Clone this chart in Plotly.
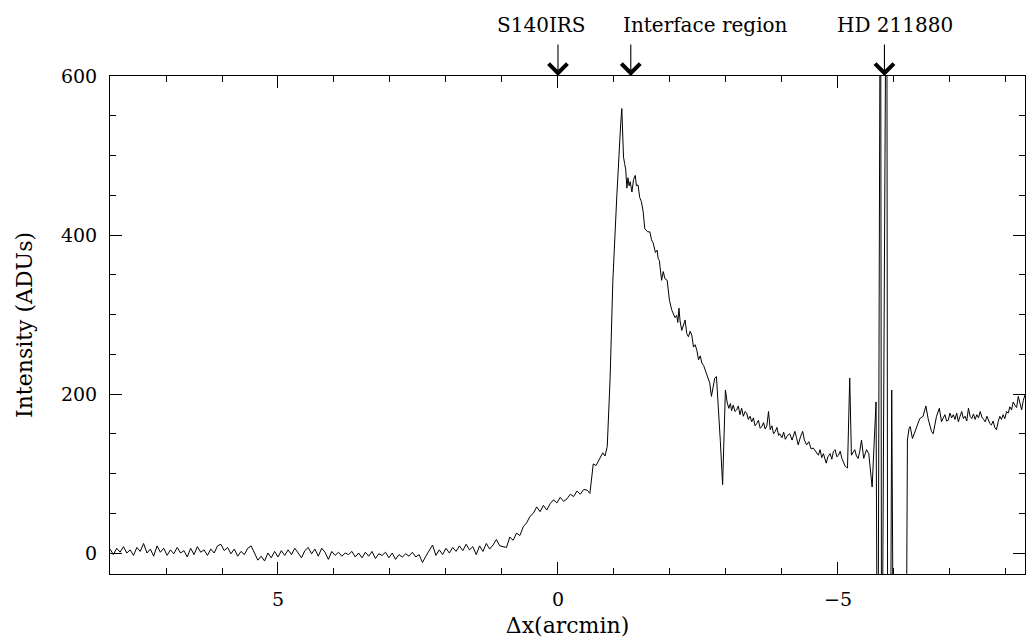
import plotly.graph_objects as go

# Offset along the cut (arcmin) and intensity (ADUs)
offset = [
    8.00, 7.94, 7.88, 7.82, 7.76, 7.70, 7.64, 7.58, 7.52, 7.46, 7.40, 7.34, 7.28, 7.22, 7.16, 7.10,
    7.04, 6.98, 6.92, 6.86, 6.80, 6.74, 6.68, 6.62, 6.56, 6.50, 6.44, 6.38, 6.32, 6.26, 6.20, 6.14,
    6.08, 6.02, 5.96, 5.90, 5.84, 5.78, 5.72, 5.66, 5.60, 5.54, 5.48, 5.42, 5.36, 5.30, 5.24, 5.18,
    5.12, 5.06, 5.00, 4.94, 4.88, 4.82, 4.76, 4.70, 4.64, 4.58, 4.52, 4.46, 4.40, 4.34, 4.28, 4.22,
    4.16, 4.10, 4.04, 3.98, 3.92, 3.86, 3.80, 3.74, 3.68, 3.62, 3.56, 3.50, 3.44, 3.38, 3.32, 3.26,
    3.20, 3.14, 3.08, 3.02, 2.96, 2.90, 2.84, 2.78, 2.72, 2.66, 2.60, 2.54, 2.48, 2.42, 2.36, 2.30,
    2.24, 2.18, 2.12, 2.06, 2.00, 1.94, 1.88, 1.82, 1.76, 1.70, 1.64, 1.58, 1.52, 1.46, 1.40, 1.34,
    1.28, 1.22, 1.16, 1.10, 1.04, 0.98, 0.92, 0.86, 0.80, 0.74, 0.68, 0.62, 0.56, 0.50, 0.44, 0.38,
    0.32, 0.26, 0.20, 0.14, 0.08, 0.02, -0.04, -0.10, -0.16, -0.22, -0.28, -0.34, -0.40, -0.46, -0.52, -0.57,
    -0.63, -0.68, -0.74, -0.80, -0.84, -0.88, -0.93, -0.98, -1.05, -1.09, -1.12, -1.14, -1.17, -1.19, -1.21, -1.23,
    -1.25, -1.27, -1.29, -1.32, -1.35, -1.38, -1.40, -1.43, -1.46, -1.49, -1.52, -1.55, -1.60, -1.64, -1.67, -1.70,
    -1.74, -1.77, -1.79, -1.81, -1.85, -1.88, -1.91, -1.95, -1.99, -2.03, -2.06, -2.09, -2.12, -2.14, -2.16, -2.18,
    -2.21, -2.24, -2.27, -2.30, -2.33, -2.36, -2.39, -2.42, -2.45, -2.48, -2.51, -2.54, -2.57, -2.60, -2.63, -2.66,
    -2.68, -2.71, -2.74, -2.77, -2.80, -2.83, -2.86, -2.90, -2.94, -2.97, -2.99, -3.02, -3.05, -3.08, -3.10, -3.13,
    -3.16, -3.19, -3.22, -3.25, -3.28, -3.31, -3.34, -3.37, -3.40, -3.43, -3.46, -3.49, -3.52, -3.55, -3.58, -3.61,
    -3.64, -3.67, -3.70, -3.73, -3.76, -3.79, -3.82, -3.85, -3.88, -3.91, -3.94, -3.96, -4.00, -4.03, -4.06, -4.10,
    -4.14, -4.18, -4.23, -4.26, -4.29, -4.33, -4.37, -4.40, -4.44, -4.48, -4.52, -4.56, -4.60, -4.65, -4.68, -4.71,
    -4.74, -4.79, -4.82, -4.86, -4.89, -4.92, -4.95, -4.98, -5.01, -5.04, -5.07, -5.10, -5.13, -5.17, -5.21, -5.24,
    -5.27, -5.30, -5.33, -5.36, -5.39, -5.42, -5.46, -5.49, -5.51, -5.55, -5.61, -5.68, -5.71, -5.76, -5.78, -5.87,
    -5.89, -5.93, -5.96, -6.00, -6.21, -6.24, -6.27, -6.29, -6.33, -6.37, -6.41, -6.46, -6.52, -6.57, -6.61, -6.64,
    -6.67, -6.70, -6.73, -6.76, -6.81, -6.85, -6.88, -6.91, -6.94, -6.97, -7.00, -7.03, -7.06, -7.09, -7.12, -7.15,
    -7.18, -7.21, -7.24, -7.27, -7.30, -7.33, -7.36, -7.39, -7.42, -7.45, -7.48, -7.51, -7.54, -7.57, -7.60, -7.63,
    -7.66, -7.68, -7.71, -7.74, -7.77, -7.80, -7.83, -7.86, -7.89, -7.92, -7.95, -7.98, -8.01, -8.04, -8.07, -8.10,
    -8.13, -8.16, -8.19, -8.22, -8.25, -8.28, -8.31, -8.34, -8.37,
]
intensity = [
    5, -2, 6, 1, 8, 0, 4, -3, 7, 2, 12, 0, 5, -4, 9, 1,
    6, -3, 4, -1, 7, 0, 3, -5, 6, -2, 8, 1, 4, -3, 5, 0,
    9, 11, 3, 7, -1, 5, -4, 2, -2, 6, 9, 1, -9, -4, -10, 0,
    -6, 2, -5, 3, -3, 4, -2, 6, 0, -6, 3, 7, -1, 5, -4, 6,
    1, -8, 2, -3, 1, -4, 0, -2, 2, -5, 0, -6, 1, -4, 2, -7,
    -1, -3, 1, -6, 0, -8, -2, -5, -1, -4, 1, -5, -2, -12, -4, 3,
    10, -3, 4, -2, 6, 0, 7, 2, 9, 3, 11, 4, 8, -2, 9, 2,
    12, 5, 10, 17, 9, 8, 7, 20, 16, 25, 22, 33, 38, 46, 50, 58,
    52, 60, 54, 62, 67, 63, 70, 65, 68, 74, 71, 78, 74, 80, 79, 75,
    112, 110, 118, 126, 122, 134, 218, 343, 448, 511, 540, 559, 498, 490, 482, 459,
    472, 462, 467, 454, 470, 475, 462, 463, 447, 442, 430, 408, 404, 404, 394, 390,
    378, 381, 370, 368, 343, 354, 345, 343, 318, 306, 302, 296, 299, 290, 308, 292,
    280, 288, 293, 276, 272, 279, 274, 259, 262, 255, 243, 248, 239, 236, 230, 224,
    220, 214, 197, 210, 220, 222, 192, 140, 86, 150, 205, 190, 182, 188, 179, 186,
    178, 180, 185, 174, 182, 172, 178, 176, 168, 172, 165, 170, 160, 163, 167, 157,
    159, 164, 156, 160, 178, 155, 160, 150, 153, 158, 148, 150, 145, 152, 143, 148,
    150, 142, 153, 145, 136, 146, 153, 142, 136, 140, 131, 132, 128, 123, 130, 120,
    125, 113, 121, 125, 118, 128, 130, 121, 123, 128, 119, 114, 109, 107, 220, 123,
    127, 130, 122, 119, 128, 142, 119, 126, 130, 125, 83, 190, -300, 900, -300, 900,
    -300, -300, 205, -300, -300, 142, 157, 159, 144, 152, 159, 169, 172, 185, 169, 160,
    153, 150, 162, 172, 182, 165, 170, 174, 166, 167, 176, 170, 174, 168, 176, 165,
    172, 178, 169, 172, 166, 182, 172, 169, 175, 168, 174, 170, 178, 171, 168, 165,
    172, 169, 163, 161, 166, 158, 155, 165, 172, 168, 174, 169, 178, 176, 184, 180,
    190, 186, 183, 197, 190, 180, 192, 199, 195,
]

# Markers along the top axis
marker_names = ["S140IRS", "Interface region", "HD 211880"]
marker_x = [0.0, -1.3, -5.83]
label_x = [0.29, -2.64, -6.02]

x_range = [8.0, -8.34]
y_range = [-26.4, 600]

FONT = "DejaVu Serif"

fig = go.Figure()
fig.add_trace(go.Scatter(
    x=offset, y=intensity, mode="lines",
    line=dict(color="black", width=1),
    showlegend=False, hoverinfo="skip",
))

axis_common = dict(
    showline=True, linecolor="black", linewidth=1, mirror="allticks",
    ticks="inside", ticklen=12, tickwidth=1, tickcolor="black",
    showgrid=False, zeroline=False,
    tickfont=dict(family=FONT, size=19, color="black"),
    ticklabelstandoff=8,
)

fig.update_xaxes(
    range=x_range, tick0=0, dtick=5,
    minor=dict(dtick=1, ticks="inside", ticklen=6, tickcolor="black", tickwidth=1, showgrid=False),
    title=dict(text="Δx(arcmin)", font=dict(family=FONT, size=22, color="black"), standoff=8),
    **axis_common,
)
fig.update_yaxes(
    range=y_range, tick0=0, dtick=200,
    minor=dict(dtick=50, ticks="inside", ticklen=6, tickcolor="black", tickwidth=1, showgrid=False),
    title=dict(text="Intensity (ADUs)", font=dict(family=FONT, size=22, color="black"), standoff=22),
    **axis_common,
)

for mx in marker_x:
    fig.add_annotation(
        x=mx, y=1.0, xref="x", yref="paper", text="",
        showarrow=True, arrowhead=4, arrowsize=3.3, arrowwidth=1.1, arrowcolor="black",
        ax=0, ay=-33,
    )
for name, lx in zip(marker_names, label_x):
    fig.add_annotation(
        x=lx, y=1.102, xref="x", yref="paper", text=name, showarrow=False,
        xanchor="center", yanchor="middle",
        font=dict(family=FONT, size=20, color="black"),
    )

fig.update_layout(
    width=1026, height=641,
    margin=dict(l=110, r=1, t=76, b=67),
    paper_bgcolor="white", plot_bgcolor="white",
)

fig.write_html(
    "out.html",
    config={"displayModeBar": False},
    post_script="document.body.style.margin='0px';document.body.style.overflow='hidden';",
)
